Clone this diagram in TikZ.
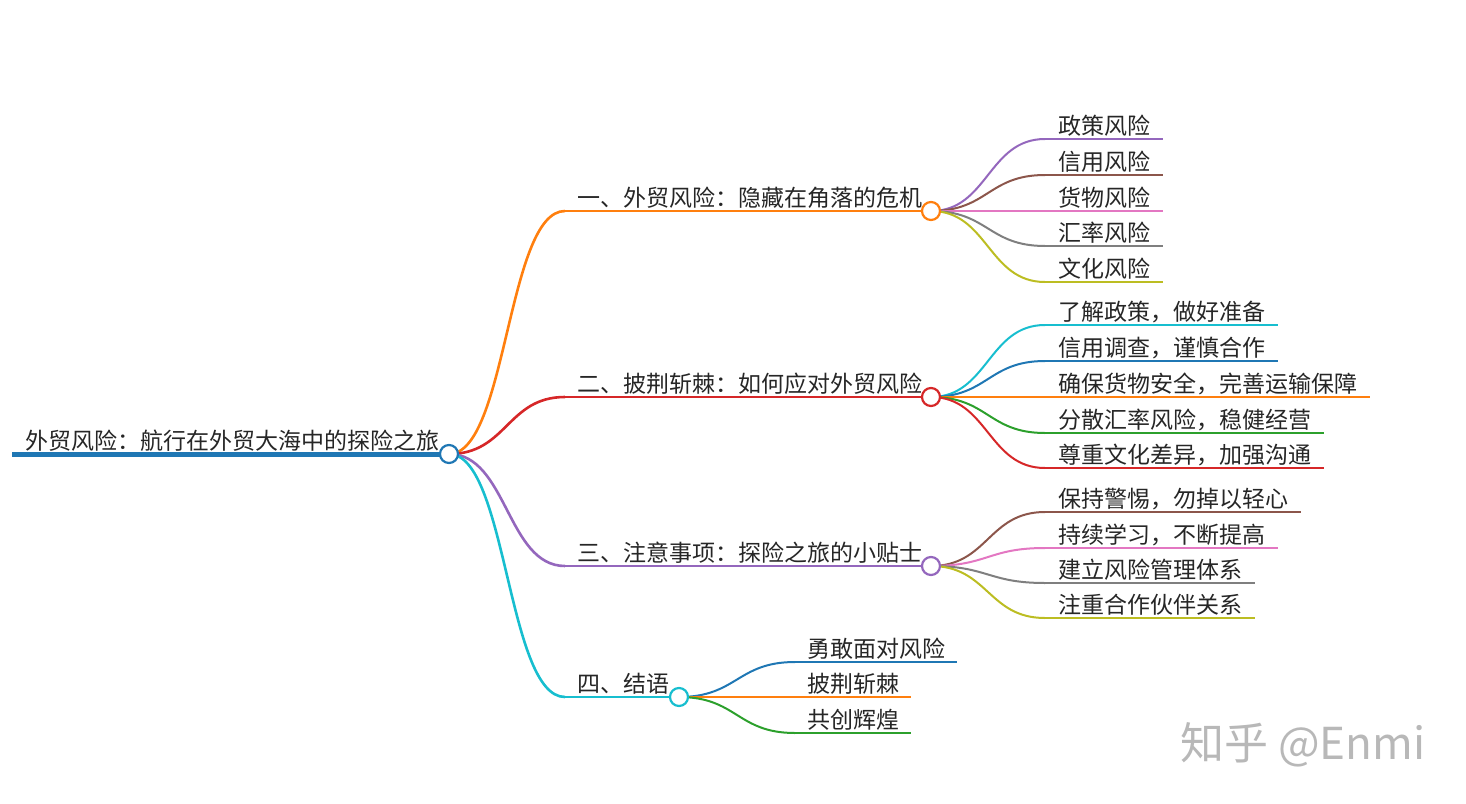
\documentclass[tikz,border=0pt]{standalone}
\usepackage{fontspec}
\setmainfont{Noto Sans CJK SC}
\usetikzlibrary{calc,backgrounds}
\definecolor{cblue}{HTML}{1F77B4}
\definecolor{corange}{HTML}{FF7F0E}
\definecolor{cgreen}{HTML}{2CA02C}
\definecolor{cred}{HTML}{D62728}
\definecolor{cpurple}{HTML}{9467BD}
\definecolor{cbrown}{HTML}{8C564B}
\definecolor{cpink}{HTML}{E377C2}
\definecolor{cgray}{HTML}{7F7F7F}
\definecolor{colive}{HTML}{BCBD22}
\definecolor{ccyan}{HTML}{17BECF}
\tikzset{
  lbl/.style={anchor=south west, inner xsep=13pt, inner ysep=4.5pt, text depth=0pt,
    font=\fontsize{23}{28}\selectfont, text=black!85},
  dot/.style={circle, draw=#1, fill=white, line width=2.2pt, minimum size=18pt, inner sep=0pt},
  curve/.style={to path={let \p1=(\tikztostart), \p2=(\tikztotarget) in
     .. controls ({(\x1+\x2)/2},\y1) and ({(\x1+\x2)/2},\y2) .. (\tikztotarget)}},
  mainline/.style={line width=2.6pt, #1},
  leafline/.style={line width=2pt, #1},
}
\begin{document}
\begin{tikzpicture}[x=1pt,y=-1pt]
\useasboundingbox (0,0) rectangle (1466,803);
% root
\node[lbl] (root) at (12,454) {外贸风险：航行在外贸大海中的探险之旅};
\node[dot=cblue] (r0) at (449,454) {};
% main branches
\node[lbl, inner xsep=12pt] (m1) at (565,211) {一、外贸风险：隐藏在角落的危机};
\node[dot=corange] (c1) at (931,211) {};
\node[lbl, inner xsep=12pt] (m2) at (565,397) {二、披荆斩棘：如何应对外贸风险};
\node[dot=cred] (c2) at (931,397) {};
\node[lbl, inner xsep=12pt] (m3) at (565,566) {三、注意事项：探险之旅的小贴士};
\node[dot=cpurple] (c3) at (931,566) {};
\node[lbl, inner xsep=12pt] (m4) at (565,697) {四、结语};
\node[dot=ccyan] (c4) at (679,697) {};
% leaves branch 1
\node[lbl] (a1) at (1045,139) {政策风险};
\node[lbl] (a2) at (1045,175) {信用风险};
\node[lbl] (a3) at (1045,211) {货物风险};
\node[lbl] (a4) at (1045,246) {汇率风险};
\node[lbl] (a5) at (1045,282) {文化风险};
% leaves branch 2
\node[lbl] (b1) at (1045,325) {了解政策，做好准备};
\node[lbl] (b2) at (1045,361) {信用调查，谨慎合作};
\node[lbl] (b3) at (1045,397) {确保货物安全，完善运输保障};
\node[lbl] (b4) at (1045,433) {分散汇率风险，稳健经营};
\node[lbl] (b5) at (1045,468) {尊重文化差异，加强沟通};
% leaves branch 3
\node[lbl] (d1) at (1045,512) {保持警惕，勿掉以轻心};
\node[lbl] (d2) at (1045,548) {持续学习，不断提高};
\node[lbl] (d3) at (1045,583) {建立风险管理体系};
\node[lbl] (d4) at (1045,618) {注重合作伙伴关系};
% leaves branch 4
\node[lbl, inner xsep=12pt] (e1) at (795,662) {勇敢面对风险};
\node[lbl, inner xsep=12pt] (e2) at (795,697) {披荆斩棘};
\node[lbl, inner xsep=12pt] (e3) at (795,733) {共创辉煌};
% watermark
\node[anchor=west, inner sep=0pt, text=black!28, font=\fontsize{44}{52}\selectfont] (wm) at (1180,745) {知乎 @Enmi};

\begin{scope}[on background layer]
\draw[line width=5pt, cblue] (root.south west) -- (r0.center);
\foreach \m/\c/\col in {m1/c1/corange, m2/c2/cred, m3/c3/cpurple, m4/c4/ccyan}{
  \draw[mainline=\col, curve] (r0.center) to (\m.south west);
  \draw[mainline=\col] (\m.south west) -- (\c.center);
}
\foreach \l/\col in {a1/cpurple, a2/cbrown, a3/cpink, a4/cgray, a5/colive}{
  \draw[leafline=\col, curve] (c1.center) to (\l.south west);
  \draw[leafline=\col] (\l.south west) -- (\l.south east);
}
\foreach \l/\col in {b1/ccyan, b2/cblue, b3/corange, b4/cgreen, b5/cred}{
  \draw[leafline=\col, curve] (c2.center) to (\l.south west);
  \draw[leafline=\col] (\l.south west) -- (\l.south east);
}
\foreach \l/\col in {d1/cbrown, d2/cpink, d3/cgray, d4/colive}{
  \draw[leafline=\col, curve] (c3.center) to (\l.south west);
  \draw[leafline=\col] (\l.south west) -- (\l.south east);
}
\foreach \l/\col in {e1/cblue, e2/corange, e3/cgreen}{
  \draw[leafline=\col, curve] (c4.center) to (\l.south west);
  \draw[leafline=\col] (\l.south west) -- (\l.south east);
}
\end{scope}
\end{tikzpicture}
\end{document}
